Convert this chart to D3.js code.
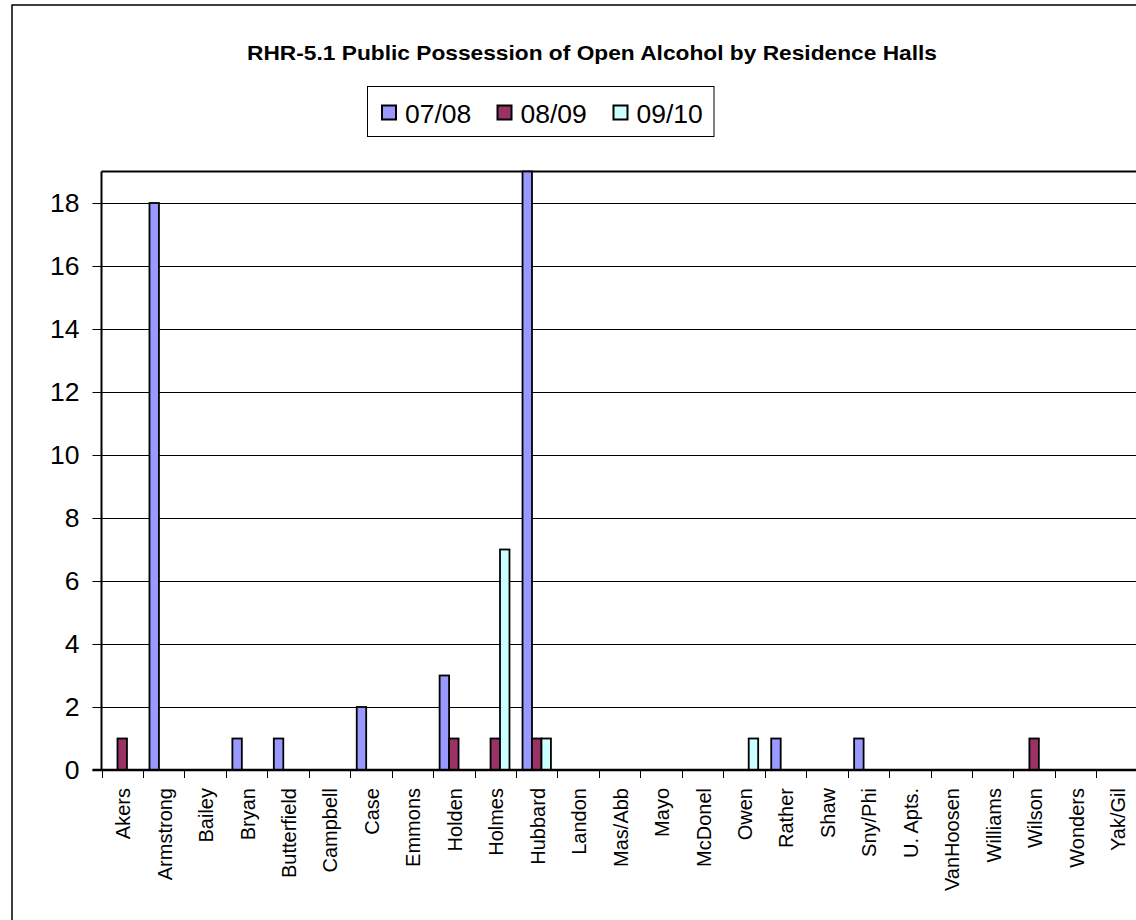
<!DOCTYPE html>
<html>
<head>
<meta charset="utf-8">
<script src="https://cdn.jsdelivr.net/npm/d3@7"></script>
<style>
  html, body { margin: 0; padding: 0; background: #fff; overflow: hidden; }
  svg { display: block; font-family: "Liberation Sans", Arial, sans-serif; }
</style>
</head>
<body>
<svg id="chart" width="1136" height="920"></svg>
<script>
const title = "RHR-5.1 Public Possession of Open Alcohol by Residence Halls";
const halls = ["Akers","Armstrong","Bailey","Bryan","Butterfield","Campbell","Case","Emmons","Holden","Holmes","Hubbard","Landon","Mas/Abb","Mayo","McDonel","Owen","Rather","Shaw","Sny/Phi","U. Apts.","VanHoosen","Williams","Wilson","Wonders","Yak/Gil"];
const seriesNames = ["07/08","08/09","09/10"];
const v0708 = [0,18,0,1,1,0,2,0,3,0,19,0,0,0,0,0,1,0,1,0,0,0,0,0,0];
const v0809 = [1,0,0,0,0,0,0,0,1,1,1,0,0,0,0,0,0,0,0,0,0,0,1,0,0];
const v0910 = [0,0,0,0,0,0,0,0,0,7,1,0,0,0,0,1,0,0,0,0,0,0,0,0,0];
const yTicks = [0,2,4,6,8,10,12,14,16,18];
const colors = ["#9999FF","#993366","#CCFFFF"];

const seriesValues = [v0708, v0809, v0910];
const svg = d3.select("#chart");

// outer chart frame (extends past window)
svg.append("rect").attr("x",12).attr("y",5).attr("width",1200).attr("height",1000)
  .attr("fill","none").attr("stroke","#000").attr("stroke-width",1.5);

const plotLeft = 101.5, bandW = 41.45, plotTop = 171.5, plotBottom = 770;
const x = d3.scaleBand().domain(halls).range([plotLeft, plotLeft + bandW*halls.length]).padding(0);
const x1 = d3.scaleBand().domain(seriesNames).range([-14.2, 14.2]).padding(0);
const y = d3.scaleLinear().domain([0,19]).range([plotBottom, plotTop]);
const snap = v => Math.round(v) + 0.5;

// title
svg.append("text").attr("x", 592).attr("y", 60).attr("text-anchor","middle")
  .attr("font-weight","bold").attr("font-size", 20.5)
  .attr("textLength", 690).attr("lengthAdjust","spacingAndGlyphs")
  .text(title);

// gridlines
svg.append("g").selectAll("line").data(yTicks.filter(d => d > 0)).join("line")
  .attr("x1", plotLeft).attr("x2", 1136).attr("y1", d => snap(y(d))).attr("y2", d => snap(y(d)))
  .attr("stroke","#000").attr("stroke-width",1);

// plot top border
svg.append("line").attr("x1", plotLeft).attr("x2", 1136).attr("y1", plotTop).attr("y2", plotTop)
  .attr("stroke","#000").attr("stroke-width",2);

// y axis
const yAxis = d3.axisLeft(y).tickValues(yTicks).tickSize(9).tickPadding(13).tickFormat(d3.format("d"));
const gy = svg.append("g").attr("transform", `translate(${plotLeft},0)`).call(yAxis);
gy.select(".domain").attr("stroke","#000").attr("stroke-width",2).attr("d", `M0,${plotTop}V${plotBottom}`);
gy.selectAll(".tick").attr("transform", d => `translate(0,${snap(y(d))})`);
gy.selectAll(".tick line").attr("stroke","#000").attr("stroke-width",1);
gy.selectAll(".tick text").attr("font-size", 26.5).attr("fill","#000")
  .attr("font-family","'Liberation Sans', Arial, sans-serif");

// bars
const groups = svg.append("g").selectAll("g").data(halls).join("g")
  .attr("transform", d => `translate(${x(d) + x.bandwidth()/2},0)`);
groups.selectAll("rect")
  .data((h, i) => seriesNames.map((s, k) => ({s, k, v: seriesValues[k][i]})).filter(d => d.v > 0))
  .join("rect")
  .attr("x", d => x1(d.s)).attr("width", x1.bandwidth())
  .attr("y", d => y(d.v)).attr("height", d => plotBottom - y(d.v))
  .attr("fill", d => colors[d.k]).attr("stroke","#000").attr("stroke-width",1.8);

// x axis
const xAxisScale = d3.scaleLinear().domain([0, halls.length]).range([plotLeft, plotLeft + bandW*halls.length]);
svg.append("g").selectAll("line").data(d3.range(0, halls.length + 1)).join("line")
  .attr("x1", d => snap(xAxisScale(d))).attr("x2", d => snap(xAxisScale(d)))
  .attr("y1", plotBottom).attr("y2", plotBottom + 8)
  .attr("stroke","#000").attr("stroke-width",1);
svg.append("line").attr("x1", plotLeft - 9).attr("x2", 1136).attr("y1", plotBottom).attr("y2", plotBottom)
  .attr("stroke","#000").attr("stroke-width",2.5);

svg.append("g").selectAll("text").data(halls).join("text")
  .attr("transform", d => `translate(${x(d) + x.bandwidth()/2 + 1},788) rotate(-90)`)
  .attr("text-anchor","end").attr("dy","0.35em")
  .attr("font-size", 20).attr("fill","#000")
  .text(d => d);

// legend
const lg = svg.append("g");
lg.append("rect").attr("x", 367.5).attr("y", 86.5).attr("width", 346.5).attr("height", 50)
  .attr("fill","#fff").attr("stroke","#000").attr("stroke-width",1);
const legX = [382, 497.5, 613.5];
const items = lg.selectAll("g").data(seriesNames).join("g")
  .attr("transform", (d,i) => `translate(${legX[i]},105.5)`);
items.append("rect").attr("width", 14).attr("height", 14)
  .attr("fill", (d,i) => colors[i]).attr("stroke","#000").attr("stroke-width",2);
items.append("text").attr("x", 23).attr("y", 17).attr("font-size", 26.5).attr("fill","#000")
  .text(d => d);
</script>
</body>
</html>
